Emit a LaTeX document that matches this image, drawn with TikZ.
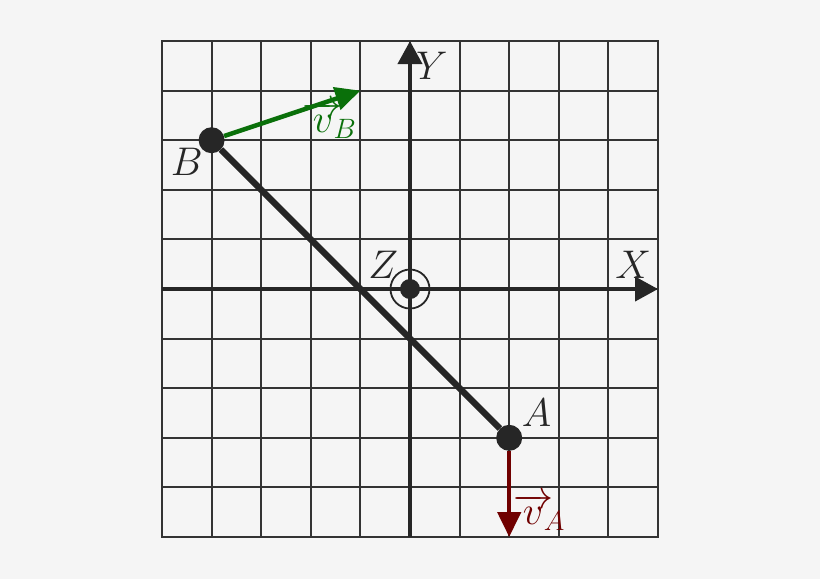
\documentclass[tikz,border=0pt]{standalone}
\usepackage{fix-cm}
\usetikzlibrary{arrows.meta}
\definecolor{bg}{HTML}{F5F5F5}
\definecolor{gridc}{HTML}{333333}
\definecolor{ink}{HTML}{262626}
\definecolor{vgreen}{HTML}{0A700A}
\definecolor{vred}{HTML}{700000}
\begin{document}
\begin{tikzpicture}[x=49.6pt,y=49.6pt,
 gridline/.style={draw=gridc,line width=2pt,line cap=rect},
 axis/.style={draw=ink,line width=4pt,-{Triangle[length=23pt,width=24pt]}},
 bar/.style={draw=ink,line width=6.5pt},
 body/.style={circle,fill=ink,inner sep=0pt,minimum size=26pt},
 vel/.style={line width=4.5pt,-{Triangle[length=25pt,width=23pt]}},
 lab/.style={font=\fontsize{40}{48}\selectfont,inner sep=0pt,text=ink}]
\fill[bg] (-8.266,-5.847) rectangle (8.266,5.827);
\useasboundingbox (-8.266,-5.847) rectangle (8.266,5.827);
\foreach \i in {-5,...,5} {
  \draw[gridline] (\i,-5) -- (\i,5);
  \draw[gridline] (-5,\i) -- (5,\i);
}
\coordinate (xs) at (-5,0);
\coordinate (xe) at (5,0);
\coordinate (ys) at (0,-5);
\coordinate (ye) at (0,5);
\draw[axis] (xs) -- (xe);
\draw[axis] (ys) -- (ye);
\node[circle,fill=ink,inner sep=0pt,minimum size=20pt] (Z) at (0,0) {};
\node[circle,draw=ink,line width=1.8pt,inner sep=0pt,minimum size=39pt] (Zring) at (0,0) {};
\node[body] (B) at (-4,3) {};
\node[body] (A) at (2,-3) {};
\draw[bar] (A) -- (B);
\coordinate (vBend) at (-1,4);
\coordinate (vAend) at (2,-5);
\draw[vel,vgreen] (B) -- (vBend);
\draw[vel,vred] (A) -- (vAend);
\node[lab] (Ylab) at (0.44,4.5) {$Y$};
\node[lab] (Xlab) at (4.5,0.48) {$X$};
\node[lab] (Zlab) at (-0.54,0.48) {$Z$};
\node[lab] (Blab) at (-4.5,2.56) {$B$};
\node[lab] (Alab) at (2.55,-2.5) {$A$};
\node[lab,text=vgreen] (vBlab) at (-1.62,3.4) {$\overrightarrow{v}_{\!\!B}$};
\node[lab,text=vred] (vAlab) at (2.6,-4.5) {$\overrightarrow{v}_{\!\!A}$};
\end{tikzpicture}
\end{document}
